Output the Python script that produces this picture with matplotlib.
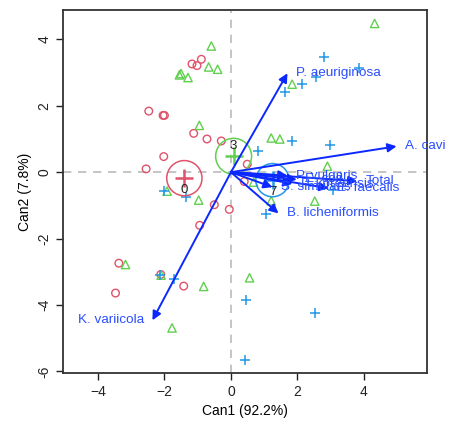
import matplotlib.pyplot as plt
from matplotlib.patches import Circle
import numpy as np

plt.rcParams['font.family'] = ['Liberation Sans', 'DejaVu Sans']

# canonical scores, group 0 (red circles)
red_x = [-1.17, -1.02, -0.89, -2.47, -2.04, -2.00, -1.12, -0.72, -0.29, -2.02,
         -2.55, 0.49, 0.40, -0.50, -0.05, -0.94, -3.37, -2.11, -1.42, -3.47]
red_y = [3.26, 3.21, 3.40, 1.84, 1.71, 1.71, 1.17, 1.00, 0.94, 0.47,
         0.10, 0.24, -0.28, -0.98, -1.12, -1.60, -2.74, -3.08, -3.43, -3.64]

# group 3 (green triangles)
green_x = [-0.59, -1.55, -1.50, -1.29, -0.67, -0.40, -0.95, -1.92, -0.97, -3.17, -2.10,
           -0.82, -1.77, 4.32, 1.84, 1.21, 1.47, 1.21, 2.52, 0.56, 2.90, 0.68]
green_y = [3.80, 2.93, 2.97, 2.85, 3.17, 3.10, 1.41, -0.57, -0.84, -2.78, -3.10,
           -3.44, -4.69, 4.48, 2.65, 1.03, 1.00, -0.86, -0.87, -3.18, 0.18, -0.30]

# group 7 (blue plus)
blue_x = [-2.02, -1.36, -2.12, -1.70, 2.80, 3.84, 2.57, 2.14, 1.64,
          1.84, 2.99, 0.81, 1.04, 0.46, 2.52, 0.42, 3.08]
blue_y = [-0.56, -0.74, -3.10, -3.21, 3.46, 3.15, 2.87, 2.67, 2.42,
          0.93, 0.81, 0.63, -1.27, -3.86, -4.23, -5.66, -0.54]

# group means and circle radii
groups = ['0', '3', '7']
mean_x = [-1.40, 0.08, 1.25]
mean_y = [-0.18, 0.48, -0.24]
radius = [0.53, 0.54, 0.50]
colors = ['#DF536B', '#61D04F', '#2297E6']

# structure vectors
var_names = ['P. aeuriginosa', 'A. cavi', 'Total', 'E. faecalis', 'P. vulgaris',
             'E. coli', 'P. koreensis', 'S. simulans', 'B. licheniformis', 'K. variicola']
var_x = [1.70, 4.98, 3.80, 2.93, 1.70, 1.98, 1.85, 1.25, 1.43, -2.36]
var_y = [2.98, 0.78, -0.27, -0.48, -0.10, -0.22, -0.35, -0.45, -1.24, -4.46]

fig = plt.figure(figsize=(4.53, 4.23), dpi=100)
ax = fig.add_axes([0.139, 0.118, 0.804, 0.858])

ax.axhline(0, color='#bbbbbb', lw=1.2, ls=(0, (5, 4)), zorder=0)
ax.axvline(0, color='#bbbbbb', lw=1.2, ls=(0, (5, 4)), zorder=0)

ax.scatter(red_x, red_y, s=30, facecolors='none', edgecolors=colors[0], linewidths=1.0, marker='o')
ax.scatter(green_x, green_y, s=36, facecolors='none', edgecolors=colors[1], linewidths=1.0, marker='^')
ax.scatter(blue_x, blue_y, s=60, color=colors[2], linewidths=1.1, marker='+')

# group means with circles
label_dy = [-0.36, 0.32, -0.36]
for g, mx, my, r, c, dy in zip(groups, mean_x, mean_y, radius, colors, label_dy):
    ax.add_patch(Circle((mx, my), r, fill=False, edgecolor=c, lw=1.1))
    ax.plot(mx, my, marker='+', ms=13, mew=1.8, color=c)
    ax.text(mx, my + dy, g, ha='center', va='center', fontsize=9.5, color='#222222')

# vectors
for name, vx, vy in zip(var_names, var_x, var_y):
    ax.annotate('', xy=(vx, vy), xytext=(0, 0),
                arrowprops=dict(arrowstyle='-|>', color='#0a28ff', lw=1.4,
                                mutation_scale=13, shrinkA=0, shrinkB=0))
    if vx < 0:
        ax.annotate(name, xy=(vx, vy), xytext=(-6, 0), textcoords='offset points',
                    ha='right', va='center', fontsize=9.7, color='#2a4dff')
    else:
        ax.annotate(name, xy=(vx, vy), xytext=(6, 0), textcoords='offset points',
                    ha='left', va='center', fontsize=9.7, color='#2a4dff')

ax.set_xlim(-5.05, 5.9)
ax.set_ylim(-6.05, 4.88)
ax.set_xticks([-4, -2, 0, 2, 4])
ax.set_yticks([-6, -4, -2, 0, 2, 4])
ax.set_yticklabels(['-6', '-4', '-2', '0', '2', '4'], rotation=90, va='center')
ax.tick_params(direction='out', length=5, width=1, labelsize=10, colors='#222222')
for s in ax.spines.values():
    s.set_color('#333333')
    s.set_linewidth(1.3)

ax.set_xlabel('Can1 (92.2%)', fontsize=10, labelpad=4)
ax.set_ylabel('Can2 (7.8%)', fontsize=10, labelpad=4)

fig.savefig('out.png', dpi=100)
